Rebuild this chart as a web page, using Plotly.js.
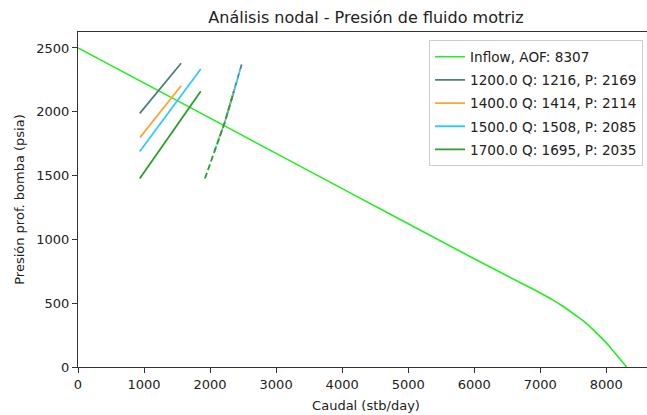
<!DOCTYPE html>
<html>
<head>
<meta charset="utf-8">
<script src="https://cdn.plot.ly/plotly-3.0.1.min.js"></script>
<style>
html,body{margin:0;padding:0;overflow:hidden;background:#fff;width:647px;height:415px;}
#chart{width:660px;height:415px;}
</style>
</head>
<body>
<div id="chart"></div>
<script>
// Inflow (IPR) curve
const inflowQ = [0, 2000, 4000, 6000, 6700, 6850, 7000, 7100, 7200, 7325, 7450, 7575, 7700, 7800, 7900, 7990, 8060, 8130, 8190, 8230, 8260, 8285, 8307];
const inflowP = [2500, 1950, 1398, 848, 660, 621, 580, 552, 522, 482, 437, 390, 340, 293, 242, 195, 152, 110, 72, 47, 29, 13, 0];

// Pump series labels
const seriesNames = ["1200.0 Q: 1216, P: 2169", "1400.0 Q: 1414, P: 2114", "1500.0 Q: 1508, P: 2085", "1700.0 Q: 1695, P: 2035"];

// Solid curves
const solidQ = [[935, 1561], [940, 1561], [935, 1859], [935, 1859]];
const solidP = [[1987, 2380], [1799, 2204], [1689, 2335], [1477, 2160]];

// Dashed curves
const dashQ = [[2262, 2379, 2483], [2141, 2217, 2386], [2065, 2217, 2379, 2458], [1922, 2050, 2217, 2361]];
const dashP = [[1987, 2192, 2380], [1799, 1909, 2204], [1689, 1909, 2192, 2335], [1477, 1668, 1909, 2160]];

const colors = ["#4f7f7f", "#ffa533", "#33c8ff", "#2a9d2a"];

const traces = [{
  x: inflowQ, y: inflowP, type: "scatter", mode: "lines",
  name: "Inflow, AOF: 8307", line: {color: "#22ee22", width: 1.6, shape: "spline", smoothing: 0.6},
  legendgroup: "g0"
}];
for (let i = 0; i < seriesNames.length; i++) {
  traces.push({
    x: solidQ[i], y: solidP[i], type: "scatter", mode: "lines",
    name: seriesNames[i], line: {color: colors[i], width: 1.8},
    legendgroup: "g" + (i + 1)
  });
  traces.push({
    x: dashQ[i], y: dashP[i], type: "scatter", mode: "lines",
    showlegend: false, line: {color: colors[i], width: 1.8, dash: "6px,3px"},
    legendgroup: "g" + (i + 1)
  });
}

const axisCommon = {
  showline: true, mirror: true, linecolor: "#333", linewidth: 1,
  ticks: "outside", ticklen: 5, tickwidth: 1, tickcolor: "#333",
  showgrid: false, zeroline: false,
  tickfont: {family: "DejaVu Sans", size: 13, color: "#222"}
};

const layout = {
  width: 660, height: 415,
  margin: {l: 78, r: 6, t: 32, b: 48},
  paper_bgcolor: "#fff", plot_bgcolor: "#fff",
  font: {family: "DejaVu Sans", color: "#222"},
  title: {text: "Análisis nodal - Presión de fluido motriz", font: {size: 16, family: "DejaVu Sans", color: "#222"},
          x: 0.5, xref: "paper", xanchor: "center", y: 0.958, yref: "container", yanchor: "middle"},
  xaxis: Object.assign({}, axisCommon, {range: [0, 8722], dtick: 1000, tick0: 0,
    title: {text: "Caudal (stb/day)", font: {size: 13, family: "DejaVu Sans", color: "#222"}, standoff: 10}, automargin: false}),
  yaxis: Object.assign({}, axisCommon, {range: [0, 2625], dtick: 500, tick0: 0,
    title: {text: "Presión prof. bomba (psia)", font: {size: 13, family: "DejaVu Sans", color: "#222"}, standoff: 8}, automargin: false}),
  legend: {x: 0.981, xanchor: "right", y: 0.975, yanchor: "top",
    bgcolor: "rgba(255,255,255,0.85)", bordercolor: "#cccccc", borderwidth: 1,
    font: {family: "DejaVu Sans", size: 13.6, color: "#222"},
    traceorder: "grouped", tracegroupgap: 2.5},
  showlegend: true
};

Plotly.newPlot("chart", traces, layout, {displayModeBar: false, staticPlot: true});
</script>
</body>
</html>
